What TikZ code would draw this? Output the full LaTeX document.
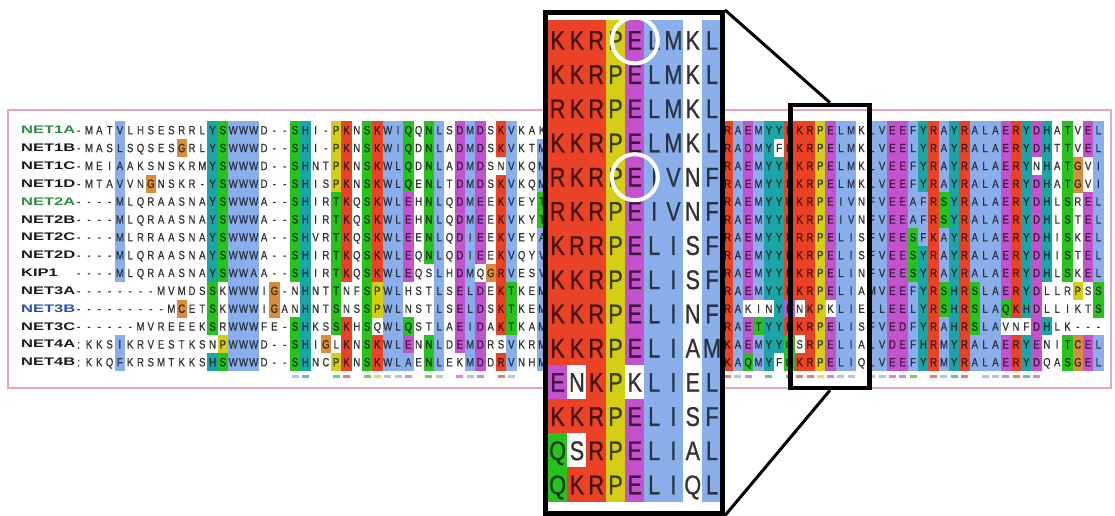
\documentclass[tikz,border=0pt]{standalone}
\usepackage{fontspec}
\setmainfont{Liberation Sans}
\newfontfamily\resfont[FakeStretch=0.8,FakeBold=0.8]{Liberation Sans}
\newfontfamily\labfont[FakeStretch=1.5]{Liberation Sans}

\definecolor{colb}{HTML}{8AAEEA}
\definecolor{colr}{HTML}{EA4226}
\definecolor{colm}{HTML}{C452CE}
\definecolor{colg}{HTML}{28C21E}
\definecolor{colc}{HTML}{1BA5A6}
\definecolor{colo}{HTML}{D98C3E}
\definecolor{coly}{HTML}{D3CF17}
\definecolor{labgreen}{HTML}{2E8B46}
\definecolor{labblue}{HTML}{2553A0}
\definecolor{labdark}{HTML}{1A1A1A}
\definecolor{pinkline}{HTML}{EBA3C3}

\tikzset{
  res/.style={inner sep=0pt,anchor=base,font=\resfont\fontsize{12}{12}\selectfont},
  bigres/.style={inner sep=0pt,anchor=base,font=\resfont\fontsize{27}{27}\selectfont},
  lab/.style={inner sep=0pt,anchor=west,font=\labfont\bfseries\fontsize{11}{11}\selectfont},
  zoomframe/.style={draw=black,line width=5pt,inner sep=0pt},
  focusbox/.style={draw=black,line width=4.5pt,inner sep=0pt},
  zoomlink/.style={black,line width=3pt},
  hilite/.style={white,line width=4pt},
  pinkbox/.style={pinkline,line width=1.5pt}
}

% residue classes and column codes
\newcount\colno
\newcount\rowno
\def\setresclass#1#2{\expandafter\def\csname RClass#1\endcsname{#2}}
\setresclass Ab \setresclass Ib \setresclass Lb \setresclass Mb \setresclass Fb
\setresclass Wb \setresclass Vb \setresclass Kr \setresclass Rr \setresclass Dm
\setresclass Em \setresclass Ng \setresclass Qg \setresclass Sg \setresclass Tg
\setresclass Hc \setresclass Yc \setresclass Go \setresclass Co \setresclass Py

\def\setcodes#1{\global\colno=0 \codeloop#1\relax}
\def\codeloop#1{\ifx#1\relax\else\docode#1\expandafter\codeloop\fi}
\def\docode#1{\if#1/\global\colno=63 \else\expandafter\xdef\csname CCode\the\colno\endcsname{#1}\global\advance\colno by 1 \fi}
\setcodes{....b..o..o..**bbb.o.gc.o*r.g*bb*.gb.mbmor*..*/rb**cc*rrymbb.bbmm**r*cr*bb*rcmc.g*m*}

\def\pickcolor#1{%
  \let\cellcol\empty
  \expandafter\ifx\csname RClass#1\endcsname\relax\else
    \edef\thecls{\csname RClass#1\endcsname}%
    \edef\thecode{\csname CCode\the\colno\endcsname}%
    \if*\thecode\let\cellcol\thecls\else
      \if\thecode\thecls\let\cellcol\thecls\fi
    \fi
  \fi
  \ifx\cellcol\empty\def\txtc{black!80}\else\edef\txtc{col\cellcol!30!black}\fi}

\def\drawrow#1#2{\global\rowno=#1 \global\colno=0 \cellloop#2\relax}
\def\cellloop#1{\ifx#1\relax\else\docell#1\expandafter\cellloop\fi}
\def\docell#1{%
  \if#1/\global\colno=63 \else
    \pickcolor#1%
    \pgfmathsetmacro\cx{78.7+10.3*\the\colno}%
    \pgfmathsetmacro\cy{130+17.85*\the\rowno}%
    \ifx\cellcol\empty\else\fill[col\cellcol] (\cx-5.2,\cy-9) rectangle (\cx+5.2,\cy+9);\fi
    \node[res,text=\txtc] (r\the\rowno c\the\colno) at (\cx,\cy+4.3) {\uppercase{#1}};
    \ifnum\colno>68 \ifnum\colno<78 \zoomcell#1\fi\fi
    \global\advance\colno by 1
  \fi}
\def\zoomcell#1{%
  \pgfmathsetmacro\zx{548+19.3*(\the\colno-69)+9.65}%
  \pgfmathsetmacro\zy{40+34.2*\the\rowno}%
  \ifnum\rowno=0 \def\ztop{20}\else\pgfmathsetmacro\ztop{\zy-17.2}\fi
  \ifx\cellcol\empty\else\fill[col\cellcol] (\zx-9.8,\ztop) rectangle (\zx+9.8,\zy+17.2);\fi
  \node[bigres,text=\txtc] (p\the\rowno c\the\colno) at (\zx,\zy+9.7) {\uppercase{#1}};}

\begin{document}
\begin{tikzpicture}[x=1pt,y=-1pt]
  \useasboundingbox (0,0) rectangle (1115,516);
  \draw[pinkbox] (8,110) rectangle (1111,388);
  \foreach \n/\c [count=\k from 0] in {NET1A/labgreen,NET1B/labdark,NET1C/labdark,NET1D/labdark,
      NET2A/labgreen,NET2B/labdark,NET2C/labdark,NET2D/labdark,KIP1/labdark,NET3A/labdark,
      NET3B/labblue,NET3C/labdark,NET4A/labdark,NET4B/labdark}
    \node[lab,text=\c] (lab\k) at (21,{130+17.85*\k}) {\n};
  \fill[white] (545.5,12.5) rectangle (722.5,513);
  \drawrow{0}{-MATVLHSESRRLYSWWWD--SHI-PKNSKWIQQNLSDMDSKVKAk/RAEMYYKKRPELMKLVEEFYRAYRALAERYDHATvEL}
  \drawrow{1}{-MASLSQSESGRLYSWWWD--SHI-PKNSKWIQDNLADMDSKVKTM/RADMYFKKRPELMKLVEELYRAYRALAERYDHTTvEL}
  \drawrow{2}{-MEIAAKSNSKRMYSWWWD--SHNTPKNSKWLQDNLADMDSNVKQM/RAEMYYRKRPELMKLVEEFYRAYRALAERYNHATGVI}
  \drawrow{3}{-MTAVVNGNSKR-YSWWWD--SHISPKNSKWLQENLTDMDSKVKQM/RAEMYYKKRPELMKLVEEFYRAYRALAERYDHATGVI}
  \drawrow{4}{----MLQRAASNAYSWWWA--SHIRTKQSKWLEHNLQDMEEKVEYT/RAEMYYRKRPEIVNFVEEAFRSYRALAERYDHLSrEL}
  \drawrow{5}{----MLQRAASNAYSWWWA--SHIRTKQSKWLEHNLQDMEEKVKYT/RAEMYYRKRPEIVNFVEEAFRSYRALAERYDHLStEL}
  \drawrow{6}{----MLRRAASNAYSWWWA--SHVRTKQSKWLEENLQDIEEKVEYA/RAEMYYKRRPELISFVEESFKAYRALAERYDHISkEL}
  \drawrow{7}{----MLQRAASNAYSWWWA--SHIRTKQSKWLEQNLQDIEEKVQYV/RAEMYYKKRPELISFVEESYRAYRALAERYDHIStEL}
  \drawrow{8}{----MLQRAASNAYSWWAA--SHIRTKQSKWLEQsLHDMQGRVESV/RAEMYYKKRPELINFVEESYRAYRALAERYDHLSkEL}
  \drawrow{9}{--------MVMDSSkWWWIG-nHNTTNFSPWLhStLSELDEKTKEM/RAEMYYKKRPELIAMVEEFYRSHRSLAERYDLLRPSS}
  \drawrow{10}{---------MCETSkWWWIGAnHNTSNSSPWLnStLSELDSKTKEM/RAkiNYENKPKLIELLEELYRSHRSLAQKHDLLIkTS}
  \drawrow{11}{------MVREEEKSrWWWFE-SHKSSKHSqWLQStLAEIDAKTKAM/RAETYYKKRPELISFVEDFYRAHRSLAvNFDHLK---}
  \drawrow{12}{:KKSIKRVESTKSnPWWWD--SHIGlKNSKWLENNLDEMDRSVKRM/KAEMYYQSRPELIALVDEFHRMYRALAERYENITCEL}
  \drawrow{13}{:KKQFKRSMTKKSHSWWWD--SHNcPKNSKWLAENLEKMDDRVNHM/KAQMYFQKRPELIQLVEEFYRMYRALAERYDQASGEL}
  % consensus marks
  \foreach \i/\c in {21/b,22/c,25/g,26/r,28/g,29/y,30/b,31/b,32/m,34/g,35/b,37/m,38/b,39/m,41/r,42/b,
      63/r,64/b,65/m,67/c,69/r,70/r,71/r,72/y,73/m,74/b,75/b,77/b,78/b,79/m,80/m,81/g,83/r,84/b,
      85/c,86/r,88/b,89/b,90/m,91/r,92/c,93/m}
    \fill[col\c,opacity=.7] ({78.7+10.3*\i-3.5},375) rectangle +(7,3);
  \node[zoomframe,minimum width=177pt,minimum height=500.5pt] (zoombox) at (634,262.75) {};
  \node[focusbox,minimum width=79pt,minimum height=283pt] (focus) at (830,246.5) {};
  \draw[zoomlink] (zoombox.north east) -- (focus.north);
  \draw[zoomlink] (zoombox.south east) -- (focus.south);
  \draw[hilite] (p0c73) circle[radius=23];
  \draw[hilite] (p4c73) circle[radius=23];
\end{tikzpicture}
\end{document}
